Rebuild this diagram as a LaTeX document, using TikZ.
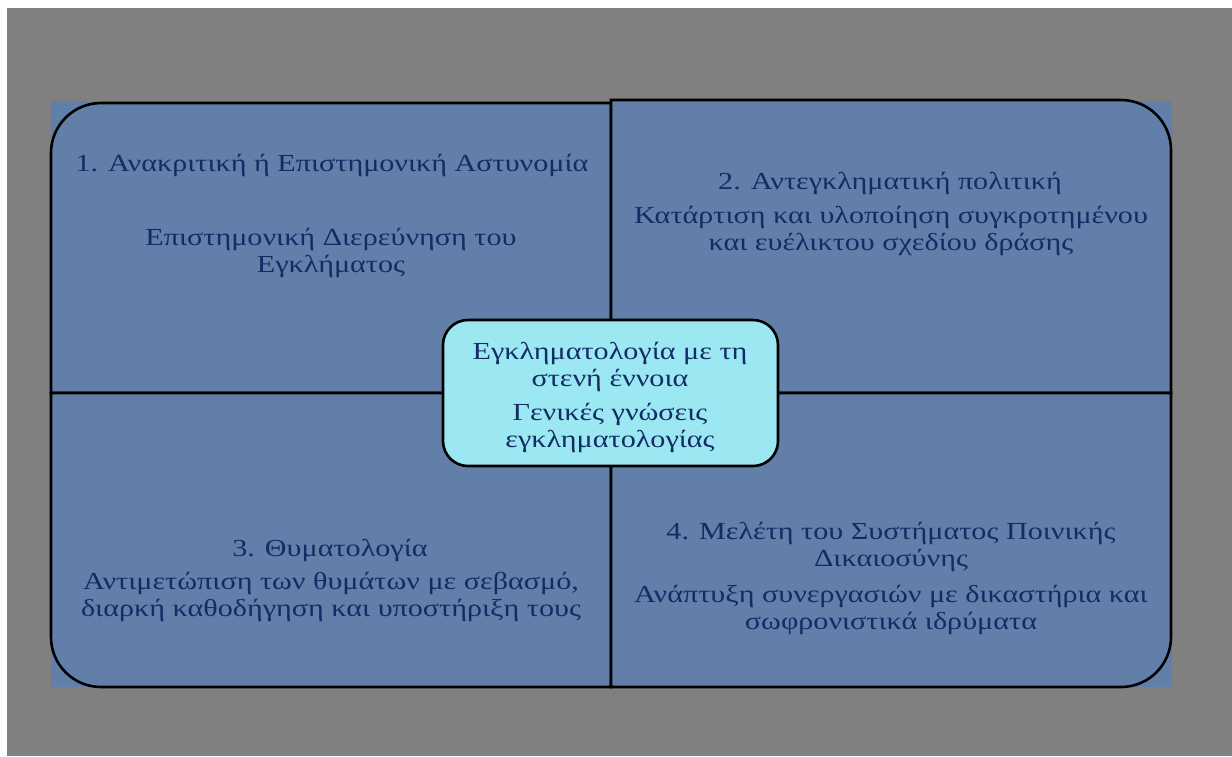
\documentclass[tikz,border=0pt]{standalone}
\usepackage{fontspec}
\setmainfont{Liberation Serif}[FakeStretch=1.23]
\usepackage{tikz}

\definecolor{slideGray}{HTML}{808080}
\definecolor{quadBlue}{HTML}{617FA8}
\definecolor{hubCyan}{HTML}{9BE8F3}
\definecolor{navyText}{HTML}{132C66}

\tikzset{
    quad/.style={fill=quadBlue, draw=black, line width=2.6pt},
    hub/.style={fill=hubCyan, draw=black, line width=2.6pt, rounded corners=25pt},
    txt/.style={text=navyText, align=center, inner sep=0pt,
        font=\fontsize{24.5}{27}\selectfont}
}

\begin{document}
\begin{tikzpicture}[x=1pt, y=-1pt]
    \useasboundingbox (0,0) rectangle (1232,756);

    % Slide background
    \fill[white] (0,0) rectangle (1232,756);
    \fill[slideGray] (7,8) rectangle (1232,756);
    \fill[quadBlue] (51,101) rectangle (1172,687);

    % Draw the four quadrants
    \draw[quad] (611,393) -- (51,393) -- (51,153)
        arc[start angle=180, end angle=270, radius=50] -- (611,103) -- cycle;
    \draw[quad] (611,393) -- (611,100) -- (1121,100)
        arc[start angle=270, end angle=360, radius=50] -- (1171,393) -- cycle;
    \draw[quad] (611,393) -- (611,687) -- (101,687)
        arc[start angle=90, end angle=180, radius=50] -- (51,393) -- cycle;
    \draw[quad] (611,393) -- (1171,393) -- (1171,637)
        arc[start angle=0, end angle=90, radius=50] -- (611,687) -- cycle;

    % Texts in the first quadrant
    \node[txt] (polTitle) at (332,165) {1. Ανακριτική ή Επιστημονική Αστυνομία};
    \node[txt] (polBody) at (331,253) {Επιστημονική Διερεύνηση του\\Εγκλήματος};

    % Texts in the second quadrant
    \node[txt] (antTitle) at (890,183) {2. Αντεγκληματική πολιτική};
    \node[txt] (antBody) at (891,231) {Κατάρτιση και υλοποίηση συγκροτημένου\\και ευέλικτου σχεδίου δράσης};

    % Texts in the third quadrant
    \node[txt] (vicTitle) at (330,550) {3. Θυματολογία};
    \node[txt] (vicBody) at (331,597) {Αντιμετώπιση των θυμάτων με σεβασμό,\\διαρκή καθοδήγηση και υποστήριξη τους};

    % Texts in the fourth quadrant
    \node[txt] (jusTitle) at (891,547) {4. Μελέτη του Συστήματος Ποινικής\\Δικαιοσύνης};
    \node[txt] (jusBody) at (891,610) {Ανάπτυξη συνεργασιών με δικαστήρια και\\σωφρονιστικά ιδρύματα};

    % Central box
    \node[hub, minimum width=335pt, minimum height=146pt] (hub) at (610.5,393) {};
    \node[txt] (hubTitle) at (610,367) {Εγκληματολογία με τη\\στενή έννοια};
    \node[txt] (hubBody) at (610,428) {Γενικές γνώσεις\\εγκληματολογίας};
\end{tikzpicture}
\end{document}
